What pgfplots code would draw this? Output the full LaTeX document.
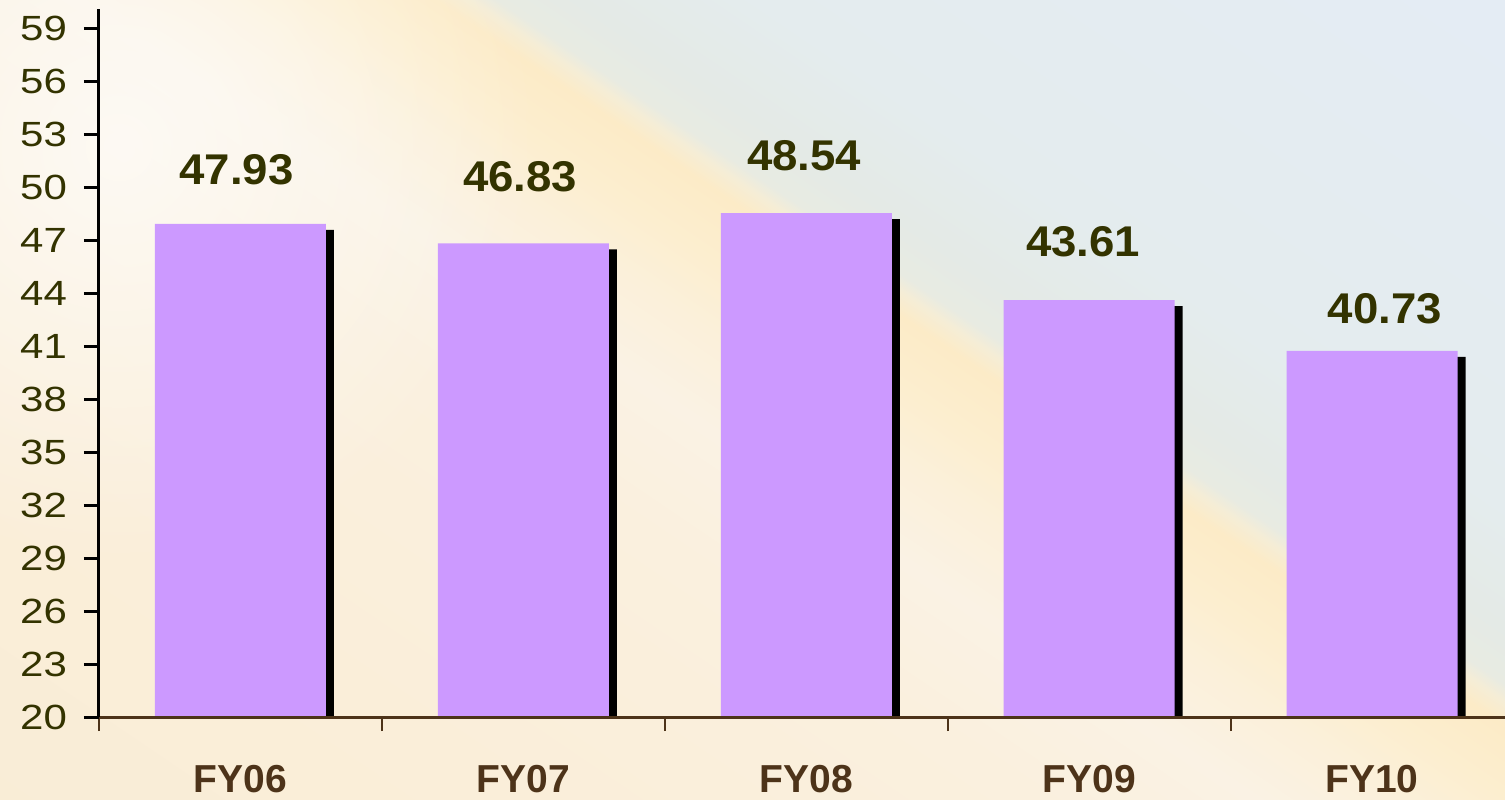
\documentclass[border=0pt]{standalone}
\usepackage{fontspec}
\setmainfont{Liberation Sans}
\newfontfamily\tickfont[FakeStretch=1.2]{Liberation Sans}
\newfontfamily\valfont[FakeStretch=1.06]{Liberation Sans}
\usepackage{pgfplots}
\pgfplotsset{compat=1.18}
\usetikzlibrary{fadings}
\definecolor{barcol}{HTML}{CC99FF}
\definecolor{xbrown}{HTML}{4D3319}
\definecolor{olive}{HTML}{333300}
\definecolor{ca}{HTML}{F9EDD6}
\definecolor{cb}{HTML}{FAEED9}
\definecolor{cc}{HTML}{FAF0DE}
\definecolor{cd}{HTML}{FAF2E4}
\definecolor{ce}{HTML}{FBF0DA}
\definecolor{cf}{HTML}{FCEECF}
\definecolor{cg}{HTML}{FCEBC7}
\definecolor{ch}{HTML}{F5EDD6}
\definecolor{ci}{HTML}{E8EBE2}
\definecolor{cj}{HTML}{E4EAE6}
\definecolor{ck}{HTML}{E4ECEE}
\definecolor{cl}{HTML}{E4ECF5}
\pgfdeclareverticalshading{bgshade}{100bp}{color(0bp)=(ca); color(25bp)=(ca); color(35.13bp)=(cb); color(44.62bp)=(cc); color(48.42bp)=(cd); color(50.95bp)=(ce); color(52.85bp)=(cf); color(54.75bp)=(cg); color(55.38bp)=(ch); color(55.85bp)=(ci); color(57.28bp)=(cj); color(60.44bp)=(ck); color(75bp)=(cl); color(100bp)=(cl)}
\tikzfading[name=whiteglow, inner color=transparent!35, outer color=transparent!100]
\begin{document}
\begin{tikzpicture}
\useasboundingbox (-49.5pt,-41pt) rectangle (703pt,358.5pt);
\begin{scope}
\clip (-49.5pt,-41pt) rectangle (703pt,358.5pt);
\begin{scope}[transform canvas={shift={(150.5pt,358.5pt)}, rotate=-34.17}]
\shade[shading=bgshade] (-1000pt,-460pt) rectangle (1000pt,330pt);
\end{scope}
\fill[white, path fading=whiteglow] (10pt,285pt) circle (210pt);
\end{scope}
\begin{axis}[
  at={(0,0)}, anchor=south west, scale only axis,
  width=703pt, height=354pt,
  xmin=-0.5, xmax=4.47, ymin=20, ymax=60.1,
  axis lines*=left,
  axis on top,
  x axis line style={draw=xbrown, line width=1.5pt},
  y axis line style={draw=black, line width=1.5pt},
  tick align=outside,
  major tick length=7.5pt,
  minor tick length=7pt,
  ytick={20,23,...,59},
  ytick style={black, line width=1.5pt},
  xtick={0,1,2,3,4},
  xticklabels={FY06,FY07,FY08,FY09,FY10},
  major x tick style={draw=none},
  minor xtick={-0.5,0.5,1.5,2.5,3.5},
  minor x tick style={draw=xbrown, line width=1pt},
  yticklabel style={font=\tickfont\fontsize{17.5pt}{20pt}\selectfont, text=olive, xshift=-5pt},
  xticklabel style={font=\fontsize{19.5pt}{22pt}\selectfont\bfseries, text=xbrown, yshift=-13pt},
  /pgf/number format/assume math mode=true,
  ybar, bar width=85.5pt,
]
\addplot[fill=black, draw=none, bar shift=4pt, yshift=-3pt] coordinates {(0,47.93) (1,46.83) (2,48.54) (3,43.61) (4,40.73)};
\addplot[fill=barcol, draw=none, bar shift=0pt] coordinates {(0,47.93) (1,46.83) (2,48.54) (3,43.61) (4,40.73)};
\begin{scope}[every node/.style={font=\valfont\bfseries\fontsize{21.5pt}{24pt}\selectfont, text=olive, anchor=center}]
\node at (axis cs:-0.014,50.99) {47.93};
\node at (axis cs:0.989,50.61) {46.83};
\node at (axis cs:1.993,51.80) {48.54};
\node at (axis cs:2.979,46.93) {43.61};
\node at (axis cs:4.045,43.15) {40.73};
\end{scope}
\end{axis}
\end{tikzpicture}
\end{document}
